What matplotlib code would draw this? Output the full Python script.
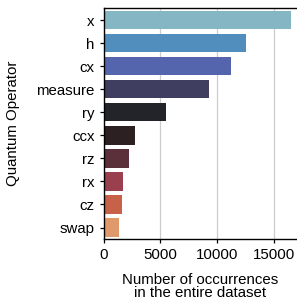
import matplotlib
matplotlib.use("Agg")
import matplotlib.pyplot as plt
import seaborn as sns

operators = ["x", "h", "cx", "measure", "ry", "ccx", "rz", "rx", "cz", "swap"]
counts = [16500, 12600, 11220, 9290, 5480, 2770, 2250, 1720, 1630, 1370]
xticks = [0, 5000, 10000, 15000]

plt.rcParams['font.family'] = ['Liberation Sans', 'DejaVu Sans']

colors = [sns.desaturate(c, 0.75) for c in sns.color_palette("icefire", len(operators))]

fig = plt.figure(figsize=(2.97, 3.03), dpi=100)
ax = fig.add_axes([0.3485, 0.211, 0.6515, 0.761])
ax.set_axisbelow(True)
ax.grid(axis="x", color="#cccccc", linewidth=0.9)
ax.barh(range(len(operators)), counts, height=0.8, color=colors)
ax.set_yticks(range(len(operators)))
ax.set_yticklabels(operators)
ax.set_ylim(len(operators) - 0.5, -0.5)
ax.set_xlim(0, 17050)
ax.set_xticks(xticks)
ax.set_xticklabels([str(t) for t in xticks])
ax.tick_params(axis="both", labelsize=10.8, length=3, width=0.9, pad=3.3)
for s in ["left", "bottom", "top"]:
    ax.spines[s].set_linewidth(1.0)
ax.spines["right"].set_visible(False)
ax.set_ylabel("Quantum Operator", fontsize=10.8, labelpad=12)
ax.set_xlabel("Number of occurrences\nin the entire dataset", fontsize=10.8,
              labelpad=8, linespacing=0.9)
fig.savefig("out.png", dpi=100)
